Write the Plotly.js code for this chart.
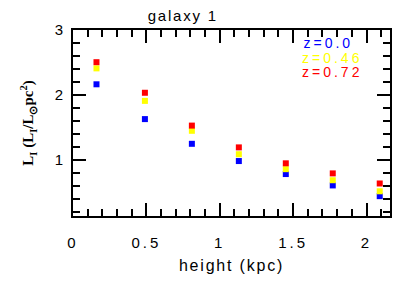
<!DOCTYPE html>
<html>
<head>
<meta charset="utf-8">
<script src="https://cdn.plot.ly/plotly-3.0.1.min.js"></script>
<style>
html,body{margin:0;padding:0;background:#fff;}
#chart{width:409px;height:289px;}
#chart .xtick text, #chart .ytick text { letter-spacing: 3px; }
#chart .annotation-text { letter-spacing: 3px; }
#chart .gtitle { letter-spacing: 1.8px; }
#chart .xtitle { letter-spacing: 1.8px; }
</style>
</head>
<body>
<div id="chart"></div>
<script>
var heights = [0.16, 0.49, 0.81, 1.13, 1.45, 1.77, 2.09];
var lumZ000 = [2.165, 1.63, 1.25, 0.985, 0.785, 0.61, 0.445];
var lumZ046 = [2.41, 1.91, 1.45, 1.09, 0.86, 0.69, 0.52];
var lumZ072 = [2.505, 2.035, 1.53, 1.195, 0.95, 0.795, 0.64];
var seriesNames = ['z=0.0', 'z=0.46', 'z=0.72'];
var seriesColors = ['#0000ff', '#ffff00', '#ff0000'];
var xTickVals = [0, 0.5, 1, 1.5, 2];
var xTickText = ['0', '0.5', '1', '1.5', '2'];
var yTickVals = [1, 2, 3];
var yTickText = ['1', '2', '3'];

var seriesY = [lumZ000, lumZ046, lumZ072];
var traces = seriesY.map(function (ys, i) {
  return {
    x: heights, y: ys, type: 'scatter', mode: 'markers', name: seriesNames[i],
    marker: {symbol: 'square', size: 6, color: seriesColors[i]}
  };
});

var sans = 'Liberation Sans, Arial, sans-serif';
var legendY = [0.930, 0.852, 0.774];
var annotations = seriesNames.map(function (n, i) {
  return {
    text: n, xref: 'paper', yref: 'paper', x: 0.747, y: legendY[i],
    xanchor: 'left', yanchor: 'middle', showarrow: false, borderpad: 0,
    font: {family: sans, size: 14, color: seriesColors[i]}
  };
});

var axisCommon = {
  showline: true, linewidth: 2, linecolor: '#000', mirror: 'ticks',
  ticks: 'inside', ticklen: 13, tickwidth: 2, tickcolor: '#000',
  showgrid: false, zeroline: false,
  tickfont: {family: sans, size: 15, color: '#000'}
};

var layout = {
  width: 409, height: 289,
  margin: {l: 73, r: 19, t: 30, b: 73},
  paper_bgcolor: '#fff', plot_bgcolor: '#fff',
  showlegend: false,
  title: {text: 'galaxy 1', xref: 'container', x: 0.447, xanchor: 'center',
          yref: 'container', y: 0.945, yanchor: 'middle',
          font: {family: sans, size: 15, color: '#000'}},
  xaxis: Object.assign({}, axisCommon, {
    range: [0, 2.16], tickmode: 'array', tickvals: xTickVals, ticktext: xTickText,
    ticklabelstandoff: 12,
    minor: {dtick: 0.1, ticks: 'inside', ticklen: 7, tickwidth: 2, tickcolor: '#000', showgrid: false},
    title: {text: 'height (kpc)', standoff: 10, font: {family: sans, size: 16, color: '#000'}}
  }),
  yaxis: Object.assign({}, axisCommon, {
    range: [0.14, 3], tickmode: 'array', tickvals: yTickVals, ticktext: yTickText,
    ticklabelstandoff: 2,
    minor: {dtick: 0.2, ticks: 'inside', ticklen: 7, tickwidth: 2, tickcolor: '#000', showgrid: false},
    title: {text: 'L<sub>I</sub> (L<sub>I</sub>/L<sub>⊙</sub>pc<sup>2</sup>)', standoff: 20,
            font: {family: 'Liberation Serif, Times New Roman, serif', size: 15, color: '#000', weight: 'bold'}}
  }),
  annotations: annotations
};

Plotly.newPlot('chart', traces, layout, {staticPlot: true, displayModeBar: false});
</script>
</body>
</html>
